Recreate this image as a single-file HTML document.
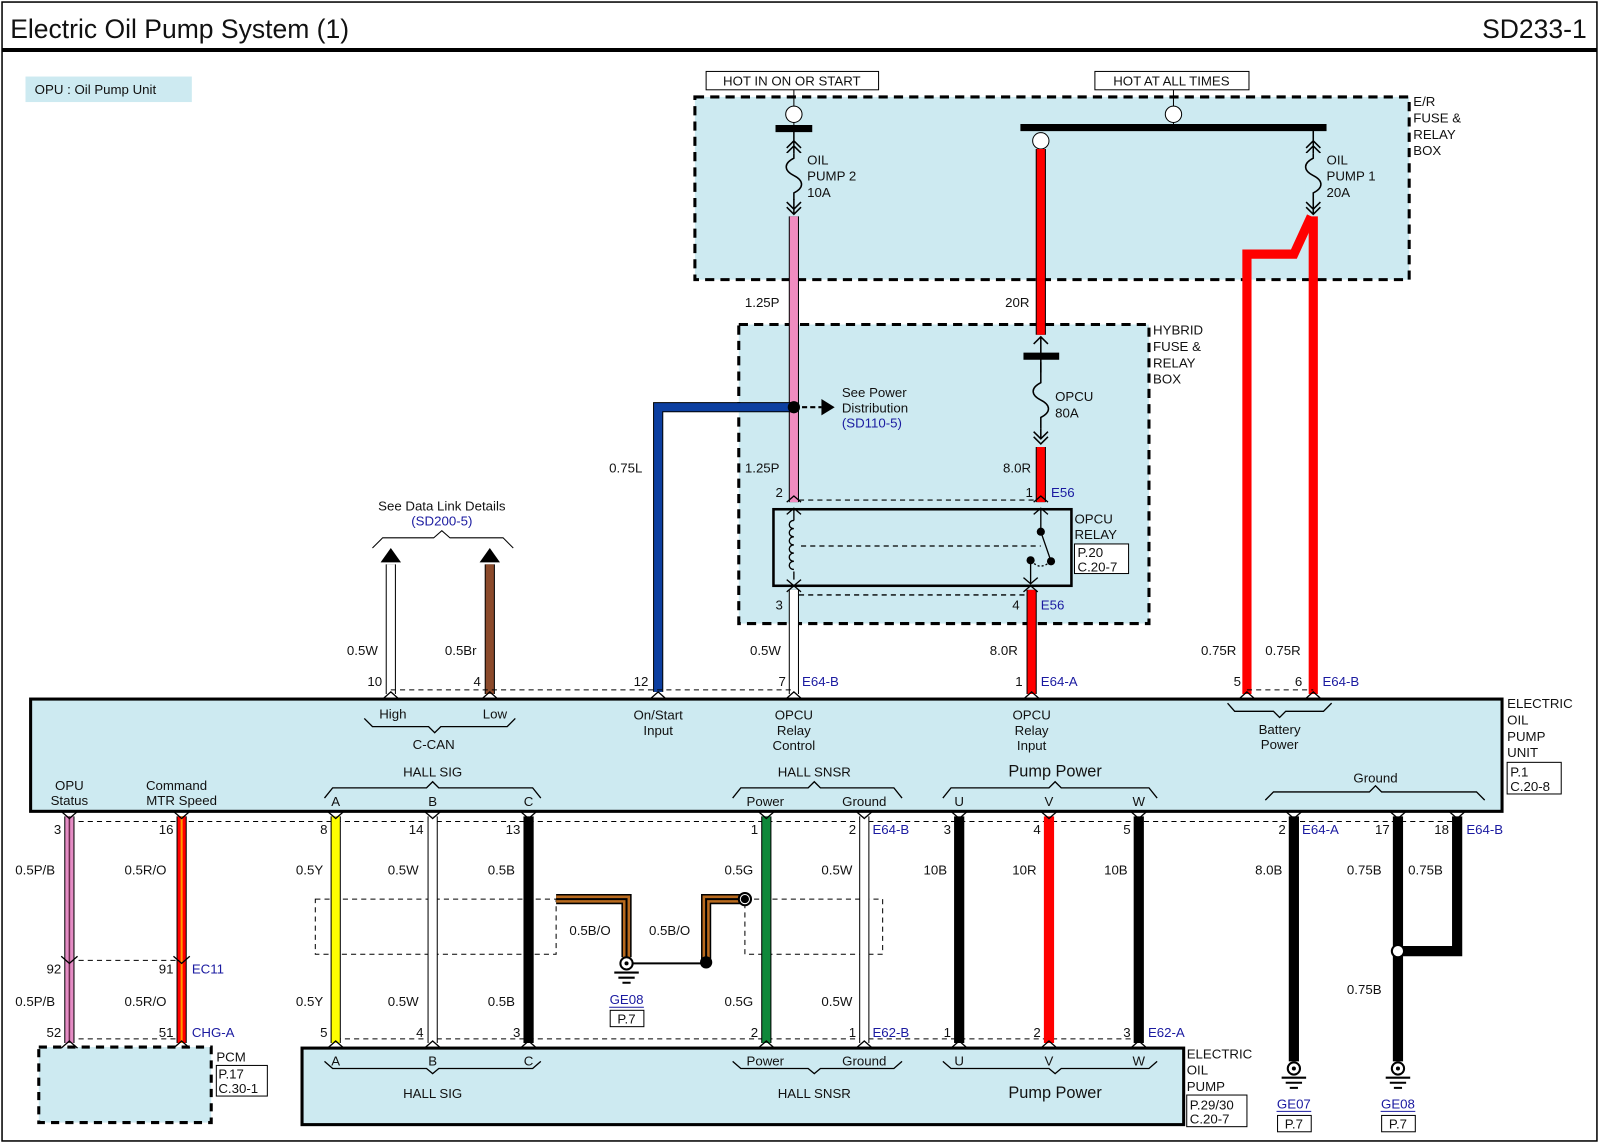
<!DOCTYPE html>
<html><head><meta charset="utf-8"><style>
html,body{margin:0;padding:0;background:#fff}
svg{display:block}
text{font-family:"Liberation Sans",Arial,sans-serif;font-size:13px;fill:#111}
.b{fill:#1a1aa0}
.m{text-anchor:middle}
.e{text-anchor:end}
</style></head><body>
<svg width="1600" height="1143" viewBox="0 0 1568 1120" preserveAspectRatio="none" xmlns="http://www.w3.org/2000/svg">
<rect x="0" y="0" width="1568" height="1120" fill="#fff"/>
<rect x="2" y="2" width="1563" height="1116" fill="none" stroke="#000" stroke-width="1.5"/>
<line x1="2" y1="49" x2="1565" y2="49" stroke="#000" stroke-width="4"/>
<text x="10" y="37" style="font-size:26px">Electric Oil Pump System (1)</text>
<text x="1555" y="37" class="e" style="font-size:26px">SD233-1</text>

<rect x="25" y="75" width="163" height="25" fill="#cdeaf1"/>
<text x="34" y="92">OPU : Oil Pump Unit</text>

<rect x="681" y="95" width="700" height="179" fill="#cdeaf1" stroke="#000" stroke-width="3" stroke-dasharray="9,6"/>
<text x="1385" y="104">E/R</text><text x="1385" y="120">FUSE &amp;</text><text x="1385" y="136">RELAY</text><text x="1385" y="152">BOX</text>
<rect x="724" y="318" width="402" height="293" fill="#cdeaf1" stroke="#000" stroke-width="3" stroke-dasharray="9,6"/>
<text x="1130" y="328">HYBRID</text><text x="1130" y="344">FUSE &amp;</text><text x="1130" y="360">RELAY</text><text x="1130" y="376">BOX</text>

<rect x="692" y="70" width="169" height="18" fill="#fff" stroke="#000"/>
<text x="776" y="84" class="m">HOT IN ON OR START</text>
<rect x="1073" y="70" width="151" height="18" fill="#fff" stroke="#000"/>
<text x="1148" y="84" class="m">HOT AT ALL TIMES</text>
<line x1="778" y1="88" x2="778" y2="104" stroke="#000"/>
<circle cx="778" cy="112" r="8" fill="#fff" stroke="#000"/>
<line x1="778" y1="120" x2="778" y2="126" stroke="#000"/>
<line x1="760" y1="126" x2="796" y2="126" stroke="#000" stroke-width="7"/>
<line x1="1150" y1="88" x2="1150" y2="104" stroke="#000"/>
<circle cx="1150" cy="112" r="8" fill="#fff" stroke="#000"/>
<line x1="1150" y1="120" x2="1150" y2="125" stroke="#000"/>
<line x1="1000" y1="125" x2="1300" y2="125" stroke="#000" stroke-width="7"/>

<g fill="none" stroke="#000" stroke-width="1.5">
<path d="M778 128 V210 M771 145 L778 138 L785 145 M771 150 L778 143 L785 150 M771 203 L778 210 L785 203 M771 198 L778 205 L785 198"/>
<path d="M1287 128 V210 M1280 145 L1287 138 L1294 145 M1280 150 L1287 143 L1294 150 M1280 203 L1287 210 L1294 203 M1280 198 L1287 205 L1294 198"/>
<path d="M1020 330 V430 M1013 337 L1020 330 L1027 337 M1013 423 L1020 430 L1027 423 M1013 428 L1020 435 L1027 428"/>
</g>
<rect x="770" y="150" width="16" height="45" fill="#cdeaf1"/>
<rect x="1279" y="150" width="16" height="45" fill="#cdeaf1"/>
<rect x="1012" y="365" width="16" height="55" fill="#cdeaf1"/>
<g fill="none" stroke="#000" stroke-width="1.5">
<path d="M778 150 V155 c-10 5 -10 12 0 17 c10 5 10 12 0 17 V196"/>
<path d="M1287 150 V155 c-10 5 -10 12 0 17 c10 5 10 12 0 17 V196"/>
<path d="M1020 355 V375 c-10 5 -10 12 0 17 c10 5 10 12 0 17 V420"/>
</g>
<text x="791" y="161">OIL</text><text x="791" y="177">PUMP 2</text><text x="791" y="193">10A</text>
<text x="1300" y="161">OIL</text><text x="1300" y="177">PUMP 1</text><text x="1300" y="193">20A</text>
<text x="1034" y="393">OPCU</text><text x="1034" y="409">80A</text>
<line x1="1003" y1="349" x2="1038" y2="349" stroke="#000" stroke-width="7"/>

<g stroke-linecap="butt" fill="none">
<path d="M778 212 V492" stroke="#000" stroke-width="10"/><path d="M778 212 V492" stroke="#f08cc0" stroke-width="8"/>
<circle cx="1020" cy="138" r="8" fill="#fff" stroke="#000"/>
<path d="M1020 146 V328" stroke="#000" stroke-width="10"/><path d="M1020 146 V328" stroke="#f00" stroke-width="8"/>
<path d="M1020 438 V492" stroke="#000" stroke-width="10"/><path d="M1020 438 V492" stroke="#f00" stroke-width="8"/>
<path d="M1287 212 V680" stroke="#f00" stroke-width="9"/>
<path d="M1285 212 L1268 249 H1222 V680" stroke="#f00" stroke-width="9" stroke-linejoin="miter"/>
<path d="M778 399 H645 V678" stroke="#000" stroke-width="10"/><path d="M778 399 H645 V678" stroke="#0d3fa0" stroke-width="8"/>
<path d="M778 578 V680" stroke="#000" stroke-width="10"/><path d="M778 578 V680" stroke="#fff" stroke-width="8"/>
<path d="M1011 578 V680" stroke="#000" stroke-width="10"/><path d="M1011 578 V680" stroke="#f00" stroke-width="8"/>
<path d="M383 553 V680" stroke="#000" stroke-width="10"/><path d="M383 553 V680" stroke="#fff" stroke-width="8"/>
<path d="M480 553 V680" stroke="#000" stroke-width="10"/><path d="M480 553 V680" stroke="#8b4a2b" stroke-width="8"/>
</g>
<circle cx="778" cy="399" r="6" fill="#000"/>
<line x1="786" y1="399" x2="805" y2="399" stroke="#000" stroke-width="2" stroke-dasharray="5,3"/>
<polygon points="805,391 818,399 805,407" fill="#000"/>
<text x="825" y="389">See Power</text><text x="825" y="404">Distribution</text><text x="825" y="419" class="b">(SD110-5)</text>
<polygon points="373,551 383,537 393,551" fill="#000"/>
<polygon points="470,551 480,537 490,551" fill="#000"/>
<text x="433" y="500" class="m">See Data Link Details</text>
<text x="433" y="515" class="m b">(SD200-5)</text>
<path d="M365 537 L375 527 H425 L433 520 L441 527 H493 L503 537" fill="none" stroke="#000"/>

<text x="730" y="301">1.25P</text><text x="985" y="301">20R</text>
<text x="730" y="463">1.25P</text><text x="983" y="463">8.0R</text><text x="597" y="463">0.75L</text>
<text x="760" y="487">2</text><text x="1005" y="487">1</text><text x="1030" y="487" class="b">E56</text>
<line x1="783" y1="490" x2="1015" y2="490" stroke="#000" stroke-dasharray="5,4"/>

<rect x="758" y="499" width="292" height="75" fill="#cdeaf1" stroke="#000" stroke-width="2.5"/>
<g fill="none" stroke="#000" stroke-width="1.3">
<path d="M771 492 L778 486 L785 492 M771 504 L778 498 L785 504 M778 498 V568 M771 568 L778 574 L785 568 M771 580 L778 574 L785 580"/>
<path d="M1013 492 L1020 486 L1027 492 M1013 504 L1020 498 L1027 504 M1020 498 V521 L1030 550"/>
<path d="M1003 566 L1010 572 L1017 566 M1010 548 V572 M1003 580 L1010 574 L1017 580"/>
<path d="M1011 549 Q1018 560 1030 550" stroke-dasharray="2,2"/>
<line x1="785" y1="535" x2="1020" y2="535" stroke-dasharray="5,4"/>
<line x1="783" y1="583" x2="1008" y2="583" stroke-dasharray="5,4"/>
</g>
<rect x="770" y="510" width="10" height="50" fill="#cdeaf1"/>
<path d="M778 510 c-6 0 -6 8 0 8 c-6 0 -6 8 0 8 c-6 0 -6 8 0 8 c-6 0 -6 8 0 8 c-6 0 -6 8 0 8 c-6 0 -6 8 0 8" fill="none" stroke="#000" stroke-width="1.3"/>
<circle cx="1020" cy="521" r="4" fill="#000"/><circle cx="1030" cy="550" r="4" fill="#000"/><circle cx="1010" cy="549" r="4" fill="#000"/>
<text x="1053" y="513">OPCU</text><text x="1053" y="528">RELAY</text>
<rect x="1053" y="533" width="53" height="29" fill="#fff" stroke="#000"/>
<text x="1056" y="546">P.20</text><text x="1056" y="560">C.20-7</text>
<text x="760" y="597">3</text><text x="992" y="597">4</text><text x="1020" y="597" class="b">E56</text>

<text x="340" y="642">0.5W</text><text x="436" y="642">0.5Br</text>
<text x="735" y="642">0.5W</text><text x="970" y="642">8.0R</text>
<text x="1177" y="642">0.75R</text><text x="1240" y="642">0.75R</text>
<text x="360" y="672">10</text><text x="464" y="672">4</text><text x="621" y="672">12</text>
<text x="763" y="672">7</text><text x="786" y="672" class="b">E64-B</text>
<text x="995" y="672">1</text><text x="1020" y="672" class="b">E64-A</text>
<text x="1209" y="672">5</text><text x="1269" y="672">6</text><text x="1296" y="672" class="b">E64-B</text>
<line x1="383" y1="676" x2="778" y2="676" stroke="#000" stroke-dasharray="5,4"/>
<line x1="1222" y1="676" x2="1287" y2="676" stroke="#000" stroke-dasharray="5,4"/>

<rect x="30" y="685" width="1442" height="110" fill="#cdeaf1" stroke="#000" stroke-width="3"/>
<g fill="none" stroke="#000" stroke-width="1.3">
<path d="M375 685 L383 678 L391 685 M472 685 L480 678 L488 685 M637 685 L645 678 L653 685 M770 685 L778 678 L786 685 M1003 685 L1011 678 L1019 685 M1214 685 L1222 678 L1230 685 M1279 685 L1287 678 L1295 685"/>
<path d="M357 704 L365 712 H420 L426 718 L432 712 H497 L505 704"/>
<path d="M1203 689 L1210 697 H1248 L1254 703 L1260 697 H1297 L1305 689"/>
<path d="M318 782 L326 772 H418 L424 766 L430 772 H522 L530 782"/>
<path d="M718 782 L726 772 H792 L798 766 L804 772 H876 L884 782"/>
<path d="M924 782 L932 772 H1028 L1034 766 L1040 772 H1126 L1134 782"/>
<path d="M1240 784 L1248 776 H1342 L1348 770 L1354 776 H1447 L1455 784"/>
</g>
<text x="385" y="704" class="m">High</text><text x="485" y="704" class="m">Low</text><text x="425" y="734" class="m">C-CAN</text>
<text x="645" y="705" class="m">On/Start</text><text x="645" y="720" class="m">Input</text>
<text x="778" y="705" class="m">OPCU</text><text x="778" y="720" class="m">Relay</text><text x="778" y="735" class="m">Control</text>
<text x="1011" y="705" class="m">OPCU</text><text x="1011" y="720" class="m">Relay</text><text x="1011" y="735" class="m">Input</text>
<text x="1254" y="719" class="m">Battery</text><text x="1254" y="734" class="m">Power</text>
<text x="424" y="761" class="m">HALL SIG</text><text x="798" y="761" class="m">HALL SNSR</text>
<text x="1034" y="761" class="m" style="font-size:16px">Pump Power</text><text x="1348" y="767" class="m">Ground</text>
<text x="68" y="774" class="m">OPU</text><text x="68" y="789" class="m">Status</text>
<text x="173" y="774" class="m">Command</text><text x="178" y="789" class="m">MTR Speed</text>
<text x="329" y="790" class="m">A</text><text x="424" y="790" class="m">B</text><text x="518" y="790" class="m">C</text>
<text x="750" y="790" class="m">Power</text><text x="847" y="790" class="m">Ground</text>
<text x="940" y="790" class="m">U</text><text x="1028" y="790" class="m">V</text><text x="1116" y="790" class="m">W</text>
<text x="1477" y="694">ELECTRIC</text><text x="1477" y="710">OIL</text><text x="1477" y="726">PUMP</text><text x="1477" y="742">UNIT</text>
<rect x="1477" y="747" width="53" height="31" fill="#fff" stroke="#000"/>
<text x="1480" y="761">P.1</text><text x="1480" y="775">C.20-8</text>

<line x1="68" y1="805" x2="1428" y2="805" stroke="#000" stroke-dasharray="5,4"/>
<line x1="68" y1="941" x2="178" y2="941" stroke="#000" stroke-dasharray="5,4"/>
<line x1="68" y1="1018" x2="178" y2="1018" stroke="#000" stroke-dasharray="5,4"/>
<line x1="329" y1="1018" x2="1116" y2="1018" stroke="#000" stroke-dasharray="5,4"/>
<rect x="309" y="881" width="236" height="54" fill="none" stroke="#000" stroke-dasharray="5,4"/>
<rect x="730" y="881" width="135" height="54" fill="none" stroke="#000" stroke-dasharray="5,4"/>
<g fill="none">
<path d="M68 800 V1022" stroke="#000" stroke-width="10"/><path d="M68 800 V1022" stroke="#e48cc4" stroke-width="8"/><path d="M68 800 V1022" stroke="#6a2a4a" stroke-width="1.5"/>
<path d="M178 800 V1022" stroke="#000" stroke-width="10"/><path d="M178 800 V1022" stroke="#f00" stroke-width="8"/><path d="M178 800 V1022" stroke="#ff9900" stroke-width="2"/>
<path d="M329 800 V1022" stroke="#000" stroke-width="10"/><path d="M329 800 V1022" stroke="#ffff00" stroke-width="8"/>
<path d="M424 800 V1022" stroke="#000" stroke-width="10"/><path d="M424 800 V1022" stroke="#fff" stroke-width="8"/>
<path d="M518 800 V1022" stroke="#000" stroke-width="10"/>
<path d="M751 800 V1022" stroke="#000" stroke-width="10"/><path d="M751 800 V1022" stroke="#10883a" stroke-width="8"/>
<path d="M847 800 V1022" stroke="#000" stroke-width="10"/><path d="M847 800 V1022" stroke="#fff" stroke-width="8"/>
<path d="M940 800 V1022" stroke="#000" stroke-width="10"/>
<path d="M1028 800 V1022" stroke="#f00" stroke-width="10"/>
<path d="M1116 800 V1022" stroke="#000" stroke-width="10"/>
<path d="M1268 800 V1040" stroke="#000" stroke-width="10"/>
<path d="M1370 800 V1040" stroke="#000" stroke-width="10"/>
<path d="M1428 800 V932 H1370" stroke="#000" stroke-width="10"/>
<path d="M545 881 H614 V938" stroke="#000" stroke-width="10"/><path d="M545 881 H614 V938" stroke="#b86a1e" stroke-width="7"/><path d="M545 881 H614 V938" stroke="#000" stroke-width="2"/>
<path d="M730 881 H692 V940" stroke="#000" stroke-width="10"/><path d="M730 881 H692 V940" stroke="#b86a1e" stroke-width="7"/><path d="M730 881 H692 V940" stroke="#000" stroke-width="2"/>
</g>
<circle cx="1370" cy="932" r="6" fill="#fff" stroke="#000" stroke-width="2"/>
<circle cx="730" cy="881" r="6" fill="#fff" stroke="#000" stroke-width="2"/><circle cx="730" cy="881" r="4" fill="#000"/>
<circle cx="692" cy="943" r="6" fill="#000"/>
<line x1="614" y1="944" x2="692" y2="944" stroke="#000" stroke-width="2"/>
<g fill="none" stroke="#000" stroke-width="2">
<circle cx="614" cy="944" r="6" fill="#fff"/><path d="M602 953 H626 M606 958 H622 M610 963 H618"/>
<circle cx="1268" cy="1047" r="6" fill="#fff"/><path d="M1256 1056 H1280 M1260 1061 H1276 M1264 1066 H1272"/>
<circle cx="1370" cy="1047" r="6" fill="#fff"/><path d="M1358 1056 H1382 M1362 1061 H1378 M1366 1066 H1374"/>
</g>
<circle cx="614" cy="944" r="2" fill="#000"/><circle cx="1268" cy="1047" r="2" fill="#000"/><circle cx="1370" cy="1047" r="2" fill="#000"/>
<text x="614" y="984" class="m b">GE08</text><line x1="597" y1="987" x2="631" y2="987" stroke="#1a1aa0"/>
<rect x="598" y="990" width="33" height="16" fill="#fff" stroke="#000"/><text x="614" y="1003" class="m">P.7</text>
<text x="1268" y="1086" class="m b">GE07</text><line x1="1251" y1="1089" x2="1285" y2="1089" stroke="#1a1aa0"/>
<rect x="1252" y="1093" width="33" height="16" fill="#fff" stroke="#000"/><text x="1268" y="1106" class="m">P.7</text>
<text x="1370" y="1086" class="m b">GE08</text><line x1="1353" y1="1089" x2="1387" y2="1089" stroke="#1a1aa0"/>
<rect x="1354" y="1093" width="33" height="16" fill="#fff" stroke="#000"/><text x="1370" y="1106" class="m">P.7</text>
<text x="558" y="916">0.5B/O</text><text x="636" y="916">0.5B/O</text>

<text x="60" y="817" class="e">3</text><text x="170" y="817" class="e">16</text><text x="321" y="817" class="e">8</text><text x="415" y="817" class="e">14</text><text x="510" y="817" class="e">13</text>
<text x="743" y="817" class="e">1</text><text x="839" y="817" class="e">2</text><text x="855" y="817" class="b">E64-B</text>
<text x="932" y="817" class="e">3</text><text x="1020" y="817" class="e">4</text><text x="1108" y="817" class="e">5</text>
<text x="1260" y="817" class="e">2</text><text x="1276" y="817" class="b">E64-A</text><text x="1362" y="817" class="e">17</text><text x="1420" y="817" class="e">18</text><text x="1437" y="817" class="b">E64-B</text>
<text x="15" y="857">0.5P/B</text><text x="122" y="857">0.5R/O</text><text x="290" y="857">0.5Y</text><text x="380" y="857">0.5W</text><text x="478" y="857">0.5B</text>
<text x="710" y="857">0.5G</text><text x="805" y="857">0.5W</text><text x="905" y="857">10B</text><text x="992" y="857">10R</text><text x="1082" y="857">10B</text>
<text x="1230" y="857">8.0B</text><text x="1320" y="857">0.75B</text><text x="1380" y="857">0.75B</text>
<text x="60" y="954" class="e">92</text><text x="170" y="954" class="e">91</text><text x="188" y="954" class="b">EC11</text>
<text x="15" y="986">0.5P/B</text><text x="122" y="986">0.5R/O</text><text x="290" y="986">0.5Y</text><text x="380" y="986">0.5W</text><text x="478" y="986">0.5B</text>
<text x="710" y="986">0.5G</text><text x="805" y="986">0.5W</text><text x="1320" y="974">0.75B</text>
<text x="60" y="1016" class="e">52</text><text x="170" y="1016" class="e">51</text><text x="188" y="1016" class="b">CHG-A</text>
<text x="321" y="1016" class="e">5</text><text x="415" y="1016" class="e">4</text><text x="510" y="1016" class="e">3</text>
<text x="743" y="1016" class="e">2</text><text x="839" y="1016" class="e">1</text><text x="855" y="1016" class="b">E62-B</text>
<text x="932" y="1016" class="e">1</text><text x="1020" y="1016" class="e">2</text><text x="1108" y="1016" class="e">3</text><text x="1125" y="1016" class="b">E62-A</text>

<rect x="38" y="1026" width="169" height="74" fill="#cdeaf1" stroke="#000" stroke-width="3" stroke-dasharray="8,6"/>
<text x="212" y="1040">PCM</text>
<rect x="212" y="1044" width="50" height="30" fill="#fff" stroke="#000"/><text x="214" y="1057">P.17</text><text x="214" y="1071">C.30-1</text>
<rect x="296" y="1027" width="864" height="75" fill="#cdeaf1" stroke="#000" stroke-width="3"/>
<g fill="none" stroke="#000" stroke-width="1.3">
<path d="M60 1027 L68 1020 L76 1027 M170 1027 L178 1020 L186 1027 M321 1027 L329 1020 L337 1027 M416 1027 L424 1020 L432 1027 M510 1027 L518 1020 L526 1027 M743 1027 L751 1020 L759 1027 M839 1027 L847 1020 L855 1027 M932 1027 L940 1020 L948 1027 M1020 1027 L1028 1020 L1036 1027 M1108 1027 L1116 1020 L1124 1027"/>
<path d="M60 795 L68 802 L76 795 M170 795 L178 802 L186 795 M321 795 L329 802 L337 795 M416 795 L424 802 L432 795 M510 795 L518 802 L526 795 M743 795 L751 802 L759 795 M839 795 L847 802 L855 795 M932 795 L940 802 L948 795 M1020 795 L1028 802 L1036 795 M1108 795 L1116 802 L1124 795 M1260 795 L1268 802 L1276 795 M1362 795 L1370 802 L1378 795 M1420 795 L1428 802 L1436 795"/>
<path d="M60 937 L68 944 L76 937 M170 937 L178 944 L186 937"/>
<path d="M318 1040 L326 1047 H418 L424 1052 L430 1047 H522 L530 1040"/>
<path d="M718 1040 L726 1047 H792 L798 1052 L804 1047 H876 L884 1040"/>
<path d="M924 1040 L932 1047 H1028 L1034 1052 L1040 1047 H1126 L1134 1040"/>
</g>
<text x="329" y="1044" class="m">A</text><text x="424" y="1044" class="m">B</text><text x="518" y="1044" class="m">C</text>
<text x="750" y="1044" class="m">Power</text><text x="847" y="1044" class="m">Ground</text>
<text x="940" y="1044" class="m">U</text><text x="1028" y="1044" class="m">V</text><text x="1116" y="1044" class="m">W</text>
<text x="424" y="1076" class="m">HALL SIG</text><text x="798" y="1076" class="m">HALL SNSR</text>
<text x="1034" y="1076" class="m" style="font-size:16px">Pump Power</text>
<text x="1163" y="1037">ELECTRIC</text><text x="1163" y="1053">OIL</text><text x="1163" y="1069">PUMP</text>
<rect x="1163" y="1073" width="59" height="31" fill="#fff" stroke="#000"/><text x="1166" y="1087">P.29/30</text><text x="1166" y="1101">C.20-7</text>
</svg>
</body></html>
